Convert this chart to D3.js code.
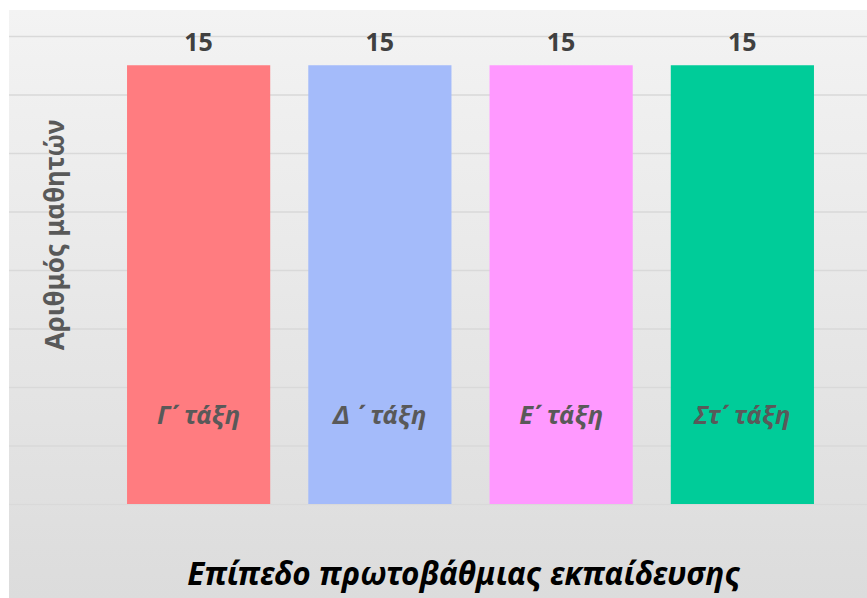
<!DOCTYPE html>
<html><head><meta charset="utf-8">
<script src="https://cdn.jsdelivr.net/npm/d3@7"></script>
<style>html,body{margin:0;padding:0;background:#fff;}svg{display:block;}</style>
</head><body>
<script>
const categories = ["Γ\u0384 τάξη", "Δ \u0384 τάξη", "Ε\u0384 τάξη", "Στ\u0384 τάξη"];
const values = [15, 15, 15, 15];
const colors = ["#FF7C80", "#A4BBFA", "#FF99FF", "#00CC99"];
const yTicks = [0, 2, 4, 6, 8, 10, 12, 14, 16];
const yTitle = "Αριθμός μαθητών";
const xTitle = "Επίπεδο πρωτοβάθμιας εκπαίδευσης";

const W = 867, H = 598;
const FONT = "'Noto Sans', 'Open Sans', sans-serif";
const svg = d3.select("body").append("svg").attr("width", W).attr("height", H);

const defs = svg.append("defs");
const grad = defs.append("linearGradient").attr("id", "bg").attr("x1", 0).attr("y1", 0).attr("x2", 0).attr("y2", 1);
grad.append("stop").attr("offset", "0%").attr("stop-color", "#f3f3f3");
grad.append("stop").attr("offset", "100%").attr("stop-color", "#dcdcdc");

svg.append("rect").attr("x", 9).attr("y", 10).attr("width", W - 9).attr("height", H - 10).attr("fill", "url(#bg)");

const x = d3.scaleBand().domain(categories).range([108, 833]).paddingInner(0.21).paddingOuter(0.105);
const y = d3.scaleLinear().domain([0, 16]).range([504, 36]);

// gridlines
const yAxis = d3.axisLeft(y).tickValues(yTicks).tickSize(-(W - 9)).tickFormat("");
const gy = svg.append("g").attr("transform", "translate(9,0)").call(yAxis);
gy.select(".domain").remove();
gy.selectAll(".tick line").attr("stroke", "#d9d9d9").attr("stroke-width", 1.3);

// bars
svg.append("g").selectAll("rect").data(values).join("rect")
  .attr("x", (d, i) => x(categories[i]))
  .attr("y", d => y(d))
  .attr("width", x.bandwidth())
  .attr("height", d => y(0) - y(d))
  .attr("fill", (d, i) => colors[i]);

// value labels
svg.append("g").selectAll("text").data(values).join("text")
  .attr("x", (d, i) => x(categories[i]) + x.bandwidth() / 2)
  .attr("y", d => y(d) - 14)
  .attr("text-anchor", "middle")
  .attr("font-family", FONT)
  .attr("font-weight", "bold")
  .attr("font-size", 25)
  .attr("fill", "#404040")
  .text(d => d);

// category labels inside bars
svg.append("g").selectAll("text").data(categories).join("text")
  .attr("x", d => x(d) + x.bandwidth() / 2)
  .attr("y", 424)
  .attr("text-anchor", "middle")
  .attr("font-family", FONT)
  .attr("font-weight", "bold")
  .attr("font-style", "italic")
  .attr("font-size", 25.5)
  .attr("fill", "#595959")
  .text(d => d);

// y title
svg.append("text")
  .attr("transform", "translate(64,235) rotate(-90)")
  .attr("text-anchor", "middle")
  .attr("font-family", FONT)
  .attr("font-weight", "bold")
  .attr("font-size", 26)
  .attr("fill", "#595959")
  .text(yTitle);

// x title
svg.append("text")
  .attr("x", 464)
  .attr("y", 585)
  .attr("text-anchor", "middle")
  .attr("font-family", FONT)
  .attr("font-weight", "bold")
  .attr("font-style", "italic")
  .attr("font-size", 31.5)
  .attr("fill", "#000")
  .text(xTitle);
</script>
</body></html>
